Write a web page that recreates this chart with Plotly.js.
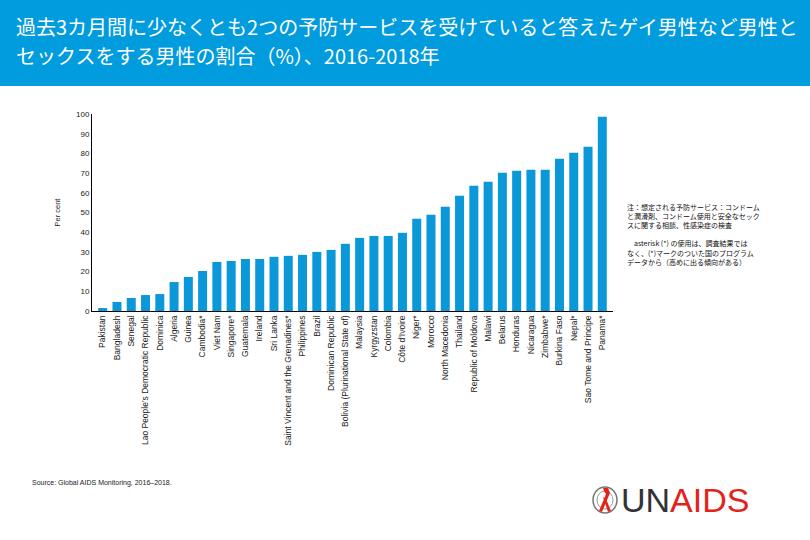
<!DOCTYPE html>
<html><head><meta charset="utf-8">
<script src="https://cdn.plot.ly/plotly-3.0.1.min.js"></script>
<style>html,body{margin:0;padding:0;background:#fff;}#chart{width:810px;height:540px;}</style>
</head><body><div id="chart"></div>
<script>
const countries = ["Pakistan","Bangladesh","Senegal","Lao People's Democratic Republic","Dominica","Algeria","Guinea","Cambodia*","Viet Nam","Singapore*","Guatemala","Ireland","Sri Lanka","Saint Vincent and the Grenadines*","Philippines","Brazil","Dominican Republic","Bolivia (Plurinational State of)","Malaysia","Kyrgyzstan","Colombia","Côte d'Ivoire","Niger*","Morocco","North Macedonia","Thailand","Republic of Moldova","Malawi","Belarus","Honduras","Nicaragua","Zimbabwe*","Burkina Faso","Nepal*","Sao Tome and Principe","Panama*"];
const percent = [1.5,4.6,6.6,8.1,8.6,14.7,17.3,20.3,24.9,25.4,26.4,26.4,27.5,28.0,28.5,30.0,31.0,34.1,37.1,38.1,38.1,39.7,46.8,48.8,52.9,58.5,63.6,65.6,70.2,71.2,71.7,71.7,77.3,80.3,83.4,98.6];
const yTicks = [0,10,20,30,40,50,60,70,80,90,100];
const titleLine1 = "過去3カ月間に少なくとも2つの予防サービスを受けていると答えたゲイ男性など男性と";
const titleLine2 = "セックスをする男性の割合（%）、2016-2018年";
const noteText = "注：想定される予防サービス：コンドーム<br>と潤滑剤、コンドーム使用と安全なセック<br>スに関する相談、性感染症の検査<br><br>　asterisk (*) の使用は、調査結果では<br>なく、(*)マークのついた国のプログラム<br>データから（高めに出る傾向がある）";
const sourceText = "Source: Global AIDS Monitoring, 2016–2018.";

const L=92, R=613, T=114, B=311;
const px = x => (x - L)/(R - L);
const py = y => (B - y)/(B - T);

const blue = "#009CDE";
const trace = {type:'bar', x:countries, y:percent, marker:{color:'#0A98D8'}, hoverinfo:'x+y'};

const cx=605, cy=500;
function pathPx(pts){return 'M'+pts.map(p=>px(p[0])+','+py(p[1])).join(' L')+' Z';}
const titleFont = {family:"Noto Sans CJK JP", size:20, color:'#fff'};

const layout = {
  width:810, height:540,
  margin:{l:L, r:810-R, t:T, b:540-B, pad:0},
  paper_bgcolor:'#fff', plot_bgcolor:'#fff',
  bargap:0.37,
  showlegend:false,
  xaxis:{type:'category', range:[-0.75,35.75], tickangle:-90, showline:true, linecolor:'#000', linewidth:1, ticks:'',
    tickfont:{family:'Liberation Sans', size:8.5, color:'#222'}, showgrid:false, zeroline:false, fixedrange:true},
  yaxis:{range:[0,100], tickvals:yTicks, ticktext:yTicks.map(String), showline:true, linecolor:'#000', linewidth:1, ticks:'',
    showgrid:false, zeroline:false, tickfont:{family:'Liberation Sans', size:8, color:'#222'},
    title:{text:'Per cent', font:{family:'Liberation Sans', size:7.5, color:'#222'}, standoff:14}},
  shapes:[
    {type:'rect', xref:'paper', yref:'paper', x0:px(0), x1:px(810), y0:py(86), y1:py(0), fillcolor:blue, line:{width:0}, layer:'below'},
    {type:'circle', xref:'paper', yref:'paper', x0:px(cx-12), x1:px(cx+12), y0:py(cy+13), y1:py(cy-13), line:{color:'#777', width:1.5}},
    {type:'circle', xref:'paper', yref:'paper', x0:px(cx-8), x1:px(cx+8), y0:py(cy+9), y1:py(cy-9), line:{color:'#999', width:1}},
    {type:'path', xref:'paper', yref:'paper', path:pathPx([[cx-2,cy-12],[cx+3,cy-12],[cx+5,cy-7],[cx-3,cy+12],[cx-6,cy+11],[cx+1,cy-6],[cx-1,cy-9]]), fillcolor:'#E2231A', line:{width:0}},
    {type:'path', xref:'paper', yref:'paper', path:pathPx([[cx-2,cy-3],[cx+1,cy-1],[cx+6,cy+11],[cx+3,cy+12]]), fillcolor:'#E2231A', line:{width:0}}
  ],
  annotations:[
    {text:titleLine1, xref:'paper', yref:'paper', x:px(14), y:py(27), xanchor:'left', yanchor:'middle', showarrow:false, font:titleFont},
    {text:titleLine2, xref:'paper', yref:'paper', x:px(14), y:py(55), xanchor:'left', yanchor:'middle', showarrow:false, font:titleFont},
    {text:noteText, xref:'paper', yref:'paper', x:px(625), y:py(200), xanchor:'left', yanchor:'top', align:'left', showarrow:false,
      font:{family:'Noto Sans CJK JP', size:7, color:'#111'}},
    {text:sourceText, xref:'paper', yref:'paper', x:px(30), y:py(483), xanchor:'left', yanchor:'middle', showarrow:false,
      font:{family:'Liberation Sans', size:7, color:'#222'}},
    {text:"<span style='color:#333'>UN</span><span style='color:#E2231A'>AIDS</span>", xref:'paper', yref:'paper', x:px(619), y:py(500), xanchor:'left', yanchor:'middle', showarrow:false,
      font:{family:'Liberation Sans', size:34, color:'#333'}}
  ]
};
Plotly.newPlot('chart',[trace],layout,{displayModeBar:false,staticPlot:true});
</script></body></html>
